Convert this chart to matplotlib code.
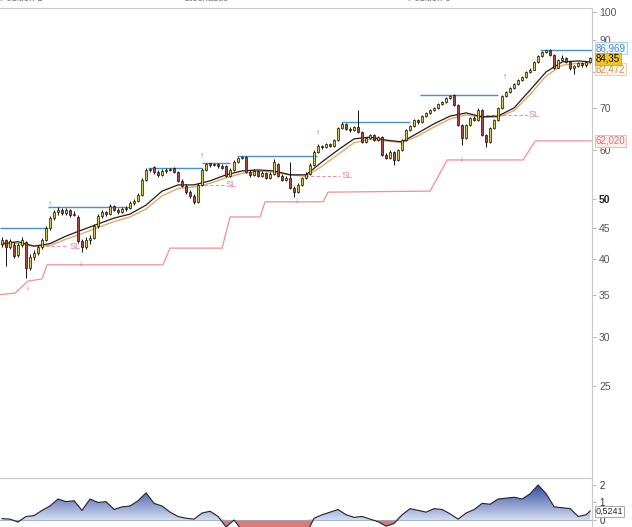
import numpy as np
import matplotlib
matplotlib.use("Agg")
import matplotlib.pyplot as plt
from matplotlib.colors import LinearSegmentedColormap
from matplotlib.patches import PathPatch

plt.rcParams['font.family'] = ['Liberation Sans', 'DejaVu Sans']

#%% data (one candle per entry)
opens = [42.4, 43.0, 41.9, 42.2, 40.6, 42.2, 42.6, 38.8, 40.3, 41.0,
         41.9, 43.0, 44.9, 46.6, 47.7, 48.0, 47.5, 48.0, 47.2, 46.8,
         42.8, 41.9, 43.0, 43.3, 45.3, 47.0, 47.7, 47.3, 48.8, 48.0,
         47.7, 48.2, 48.4, 49.3, 49.6, 50.8, 53.7, 55.7, 56.3, 55.3,
         54.7, 55.5, 55.7, 56.1, 55.3, 53.5, 52.5, 51.3, 50.6, 49.5,
         52.7, 55.7, 57.2, 56.8, 57.0, 56.6, 56.6, 54.5, 55.7, 57.4,
         58.2, 58.4, 55.3, 54.7, 55.5, 54.5, 55.1, 54.1, 54.9, 57.0,
         54.5, 53.7, 54.1, 52.1, 51.3, 52.7, 54.1, 54.9, 56.8, 59.6,
         60.9, 60.7, 61.3, 60.9, 62.2, 65.1, 66.1, 64.8, 64.6, 65.3,
         64.1, 61.8, 62.7, 63.4, 62.2, 62.9, 58.9, 58.2, 59.6, 57.8,
         60.0, 62.2, 64.6, 65.6, 67.0, 66.5, 68.0, 68.8, 69.6, 70.1,
         71.1, 71.6, 72.7, 73.5, 70.8, 65.8, 62.7, 65.8, 67.5, 67.0,
         69.6, 63.4, 61.8, 65.1, 67.0, 70.1, 73.2, 74.4, 75.4, 76.6,
         77.7, 78.6, 80.1, 80.7, 83.1, 84.9, 86.2, 86.9, 85.3, 81.3,
         83.7, 84.3, 83.1, 81.3, 81.9, 82.8, 82.2, 83.1]
highs = [43.4, 43.2, 43.1, 42.6, 42.5, 43.4, 42.8, 40.8, 41.4, 42.2,
         43.3, 45.3, 47.0, 48.1, 48.5, 48.3, 48.4, 48.2, 47.9, 47.1,
         43.2, 43.4, 43.7, 45.6, 47.3, 48.0, 47.9, 49.1, 49.0, 48.3,
         48.5, 48.8, 49.6, 50.0, 51.2, 54.0, 56.0, 56.1, 56.6, 55.6,
         55.9, 56.1, 56.1, 56.3, 55.5, 53.8, 52.9, 51.8, 51.0, 53.0,
         56.0, 57.2, 57.2, 57.2, 57.2, 56.9, 56.8, 56.0, 57.7, 58.5,
         58.6, 58.6, 55.6, 55.8, 55.7, 55.4, 55.3, 55.2, 58.0, 57.2,
         54.8, 54.4, 57.3, 52.4, 53.0, 54.3, 55.2, 57.1, 59.9, 61.3,
         61.2, 61.6, 61.5, 62.5, 65.4, 66.5, 66.3, 65.2, 65.6, 69.6,
         64.3, 63.0, 63.7, 63.6, 63.2, 63.1, 59.2, 59.9, 59.8, 60.3,
         62.5, 64.9, 65.9, 67.3, 67.2, 68.3, 69.1, 69.9, 70.4, 71.4,
         71.9, 73.0, 73.5, 73.7, 71.0, 66.1, 66.1, 67.8, 67.9, 70.0,
         69.8, 63.7, 65.4, 67.3, 70.4, 73.5, 74.7, 75.8, 77.0, 78.0,
         78.9, 80.4, 81.1, 83.4, 85.3, 86.6, 86.97, 87.2, 85.6, 84.0,
         85.4, 84.6, 83.4, 82.2, 83.1, 83.0, 83.4, 84.6]
lows = [41.8, 39.0, 41.5, 40.2, 40.4, 41.9, 37.3, 38.4, 39.9, 40.6,
        41.6, 42.8, 44.6, 46.3, 47.2, 47.1, 47.2, 46.8, 46.9, 42.5,
        41.1, 41.6, 42.4, 43.1, 45.0, 46.7, 46.9, 47.1, 47.8, 47.4,
        47.5, 47.9, 48.2, 49.0, 49.4, 50.6, 53.4, 55.3, 54.9, 54.2,
        54.5, 55.1, 55.4, 55.0, 53.2, 52.2, 51.0, 50.2, 49.1, 49.3,
        52.5, 55.4, 56.4, 56.5, 56.2, 55.8, 54.3, 54.3, 55.5, 57.2,
        57.9, 55.0, 54.3, 54.5, 54.2, 54.3, 53.8, 53.9, 54.7, 54.3,
        53.4, 53.5, 51.9, 50.4, 51.1, 52.5, 53.9, 54.7, 56.6, 59.4,
        60.2, 60.5, 60.6, 60.7, 62.0, 64.9, 64.5, 64.2, 64.4, 63.8,
        61.5, 61.6, 62.5, 61.9, 62.0, 58.7, 57.9, 58.0, 56.8, 57.6,
        59.8, 62.0, 64.4, 65.4, 66.0, 66.3, 67.8, 68.6, 69.2, 69.9,
        70.8, 71.4, 72.5, 70.5, 65.5, 61.1, 62.5, 65.6, 66.7, 66.8,
        63.1, 60.6, 61.6, 64.9, 66.8, 69.9, 73.0, 74.1, 75.1, 76.3,
        77.4, 78.3, 79.8, 80.5, 82.8, 84.6, 85.9, 85.0, 81.0, 81.1,
        83.4, 82.8, 80.6, 79.5, 81.6, 81.4, 81.5, 82.9]
closes = [43.0, 41.9, 42.8, 40.5, 42.2, 42.9, 38.7, 40.4, 41.0, 41.9,
          43.0, 44.9, 46.6, 47.7, 48.0, 47.5, 48.0, 47.2, 47.3, 42.8,
          41.9, 43.0, 43.3, 45.3, 47.0, 47.7, 47.3, 48.8, 48.0, 47.7,
          48.2, 48.4, 49.3, 49.6, 50.8, 53.7, 55.7, 55.9, 55.3, 54.7,
          55.5, 55.7, 55.9, 55.3, 53.5, 52.5, 51.3, 50.6, 49.5, 52.7,
          55.7, 57.0, 56.8, 57.0, 56.6, 56.1, 54.5, 55.7, 57.4, 58.2,
          58.5, 55.3, 54.7, 55.5, 54.5, 55.1, 54.1, 54.9, 57.4, 54.5,
          53.7, 54.1, 52.1, 51.3, 52.7, 54.1, 54.9, 56.8, 59.6, 60.9,
          60.7, 61.3, 60.9, 62.2, 65.1, 66.1, 64.8, 64.6, 65.3, 64.1,
          61.8, 62.7, 63.4, 62.2, 62.9, 58.9, 58.2, 59.6, 57.8, 60.0,
          62.2, 64.6, 65.6, 67.0, 66.5, 68.0, 68.8, 69.6, 70.1, 71.1,
          71.6, 72.7, 73.3, 70.8, 65.8, 62.7, 65.8, 67.5, 67.0, 69.6,
          63.4, 61.8, 65.1, 67.0, 70.1, 73.2, 74.4, 75.4, 76.6, 77.7,
          78.6, 80.1, 80.7, 83.1, 84.9, 86.2, 86.9, 85.3, 81.3, 83.7,
          84.3, 83.1, 81.3, 81.9, 82.8, 82.2, 83.1, 84.35]

# moving averages (sampled every 4 candles)
ma_idx = [0, 4, 8, 12, 16, 20, 24, 28, 32, 36, 40, 44, 48, 52, 56, 60, 64, 68, 72,
          76, 80, 84, 88, 92, 96, 100, 104, 108, 112, 116, 120, 124, 128, 132, 136,
          140, 144, 147]
ma_fast = [42.4, 42.7, 42.0, 42.4, 43.6, 44.6, 45.6, 46.6, 47.3, 48.9, 51.5, 52.7,
           52.7, 53.5, 54.7, 55.5, 55.7, 55.5, 54.7, 54.7, 57.4, 60.0, 62.5, 62.9,
           62.2, 61.8, 63.9, 66.1, 68.0, 68.8, 67.8, 68.0, 70.1, 74.9, 80.1, 83.1,
           83.4, 83.1]
ma_slow = [42.2, 42.4, 42.0, 42.1, 43.1, 44.0, 45.0, 46.0, 46.8, 48.2, 50.6, 52.0,
           52.3, 53.0, 54.1, 55.0, 55.4, 55.3, 54.7, 54.4, 56.5, 59.0, 61.6, 62.4,
           62.0, 61.6, 63.2, 65.3, 67.3, 68.3, 67.7, 67.7, 69.4, 73.7, 78.9, 82.1,
           82.7, 82.5]

# breakout levels (blue)
res_level = [45.0, 48.6, 56.1, 57.2, 58.6, 66.5, 73.5, 86.969]
res_start = [-0.5, 11.5, 36.5, 50.0, 58.75, 85.0, 104.5, 134.5]
res_end = [11.5, 32.0, 50.0, 57.0, 78.75, 102.0, 124.0, 147.5]

# trailing stop (light red)
stop_idx = [-0.5, 3.25, 4.5, 6.5, 10.0, 11.25, 40.25, 42.0, 55.0, 57.0, 64.5,
            65.75, 80.25, 81.5, 107.0, 111.25, 130.25, 133.25, 147.5]
stop_val = [35.1, 35.3, 35.9, 36.9, 37.2, 39.2, 39.2, 41.7, 41.7, 46.8, 46.8,
            49.5, 49.5, 51.3, 51.5, 57.8, 57.8, 62.02, 62.02]

# SL dashed levels
sl_level = [42.0, 52.7, 54.5, 68.3]
sl_start = [9.5, 50.5, 75.75, 119.5]
sl_end = [16.5, 55.5, 84.5, 131.25]

# signal arrows
up_idx = [12.0, 50.0, 79.0, 125.75]
up_val = [48.4, 57.7, 62.9, 77.4]
dn_idx = [6.5, 19.75, 73.75, 115.0]
dn_val = [36.4, 39.8, 50.2, 58.6]

# lower oscillator (every 2 candles)
osc_idx = list(range(0, 147, 2)) + [147]
osc_val = [0.08, 0.05, -0.12, 0.2, 0.25, 0.55, 0.8, 1.2, 1.05, 1.1,
           0.55, 1.2, 1.0, 1.05, 0.6, 0.75, 0.8, 1.1, 1.55, 0.95,
           0.8, 0.45, 0.2, 0.1, 0.05, 0.4, 0.5, 0.2, -0.4, 0.0,
           -0.6, -0.8, -0.8, -0.8, -0.8, -0.8, -0.8, -0.8, -0.8, 0.1,
           0.3, 0.45, 0.6, 0.3, 0.15, 0.2, 0.05, -0.1, -0.35, -0.2,
           0.3, 0.65, 0.55, 0.45, 0.65, 0.6, 0.35, 0.05, 0.4, 0.6,
           0.95, 0.9, 1.2, 1.25, 1.3, 1.2, 1.5, 2.0, 1.5, 0.75,
           0.7, 0.65, 0.2, 0.3, 0.52]

price_ticks = [25, 30, 35, 40, 45, 50, 60, 70, 80, 90, 100]
# 80 sits under the value boxes in the screenshot
price_labels = ['25', '30', '35', '40', '45', '50', '60', '70', '', '90', '100']

#%% figure
fig = plt.figure(figsize=(6.32, 5.27), dpi=100)
ax = fig.add_axes([0, 0.093, 0.937, 0.892])
ax2 = fig.add_axes([0, 0, 0.937, 0.093])

n = len(closes)
x = np.arange(n)
o = np.array(opens); c = np.array(closes)
up = c >= o

ax.vlines(x, lows, highs, color='#111111', lw=0.7, zorder=3)
ax.bar(x[up], (c - o)[up], bottom=o[up], width=0.55, color='#d4cc58',
       edgecolor='#111111', lw=0.5, zorder=4)
ax.bar(x[~up], (o - c)[~up], bottom=c[~up], width=0.55, color='#a84a4a',
       edgecolor='#111111', lw=0.5, zorder=4)

ax.plot(ma_idx, ma_slow, color='#e0a870', lw=1.0, zorder=2)
ax.plot(ma_idx, ma_fast, color='#2a1a10', lw=0.9, zorder=2)

ax.hlines(res_level, res_start, res_end, color='#4a90c8', lw=1.0, zorder=1)
ax.plot(stop_idx, stop_val, color='#f09090', lw=0.9, zorder=1)
ax.hlines(sl_level, sl_start, sl_end, color='#e090b0', lw=0.8, linestyles=(0, (3, 2)), zorder=1)
for lv, xe in zip(sl_level, sl_end):
    ax.text(xe + 0.3, lv, 'SL', color='#e080a8', fontsize=6.5, va='center', ha='left')
for xi, v in zip(up_idx, up_val):
    ax.text(xi, v, '↑', color='#3a80c8', fontsize=6, ha='center', va='bottom')
for xi, v in zip(dn_idx, dn_val):
    ax.text(xi, v, '↓', color='#e05080', fontsize=6, ha='center', va='top')

ax.set_yscale('log')
ax.set_ylim(17.8, 101.5)
ax.set_xlim(-0.5, 147.5)
ax.yaxis.tick_right()
ax.set_yticks(price_ticks)
ax.set_yticklabels(price_labels)
ax.yaxis.set_minor_locator(matplotlib.ticker.NullLocator())
ax.tick_params(axis='y', direction='out', length=3, width=0.6, color='#aaaaaa',
               labelsize=7.5, labelcolor='#555555', pad=2)
for lab in ax.get_yticklabels():
    if lab.get_text() == '50':
        lab.set_fontweight('bold')
        lab.set_color('#222222')
ax.set_xticks([])
for s in ['left', 'bottom']:
    ax.spines[s].set_visible(False)
ax.spines['top'].set_color('#c8c8c8')
ax.spines['right'].set_color('#c8c8c8')

# value boxes on the price axis
yt = ax.get_yaxis_transform()
box = dict(boxstyle='square,pad=0.1', lw=0.6)
ax.text(1.006, 87.4, '86,969', transform=yt, fontsize=7, color='#4a90c8', va='center',
        bbox=dict(box, fc='#eef5fc', ec='#a8c8e8'), clip_on=False, zorder=6)
ax.text(1.006, 80.9, '82,472', transform=yt, fontsize=7, color='#d09050', va='center',
        bbox=dict(box, fc='#fdf6ec', ec='#e8c8a0'), clip_on=False, zorder=6)
ax.text(1.006, 84.1, '84,35', transform=yt, fontsize=7, color='black', va='center',
        bbox=dict(box, fc='#f2c428', ec='#d0a020'), clip_on=False, zorder=7)
ax.text(1.006, 62.02, '62,020', transform=yt, fontsize=7, color='#e07070', va='center',
        bbox=dict(box, fc='#fdeeee', ec='#f0b0b0'), clip_on=False, zorder=6)

# header strip (cut off at the top, as in the screenshot)
for xf, txt in [(0.0, 'Position 1'), (0.29, 'Stochastic'), (0.645, 'Position 3')]:
    fig.text(xf, 1.004, txt, fontsize=7, color='#777777', va='center')

#%% oscillator panel
ov = np.array(osc_val)
ax2.fill_between(osc_idx, 0, ov, where=ov < 0, interpolate=True, color='#e07878', lw=0)
pos = ax2.fill_between(osc_idx, 0, np.maximum(ov, 0), color='none', lw=0)
clip = PathPatch(pos.get_paths()[0], transform=ax2.transData, fc='none', ec='none')
ax2.add_patch(clip)
cmap = LinearSegmentedColormap.from_list('bl', ['#d4dcf0', '#2a46a0'])
grad = np.linspace(0, 1, 100).reshape(-1, 1)
img = ax2.imshow(grad, extent=[-0.5, 147.5, 0, 2.1], origin='lower', aspect='auto', cmap=cmap, zorder=2)
img.set_clip_path(clip)
ax2.plot(osc_idx, ov, color='#222222', lw=0.8, zorder=3)
ax2.axhline(0, color='#9aa8c8', lw=0.6, zorder=1)
ax2.set_xlim(-0.5, 147.5)
ax2.set_ylim(-0.4, 2.4)
ax2.yaxis.tick_right()
ax2.set_yticks([0, 1, 2])
ax2.tick_params(axis='y', direction='out', length=3, width=0.6, color='#aaaaaa',
                labelsize=7, labelcolor='#333333', pad=2)
ax2.set_xticks([])
for s in ['left', 'bottom']:
    ax2.spines[s].set_visible(False)
ax2.spines['top'].set_color('#c8c8c8')
ax2.spines['right'].set_color('#c8c8c8')
ax2.text(1.006, 0.5, '0,5241', transform=ax2.get_yaxis_transform(), fontsize=6.5,
         color='#222222', va='center',
         bbox=dict(boxstyle='square,pad=0.1', fc='white', ec='#999999', lw=0.6),
         clip_on=False, zorder=6)

fig.savefig('out.png', dpi=100)
